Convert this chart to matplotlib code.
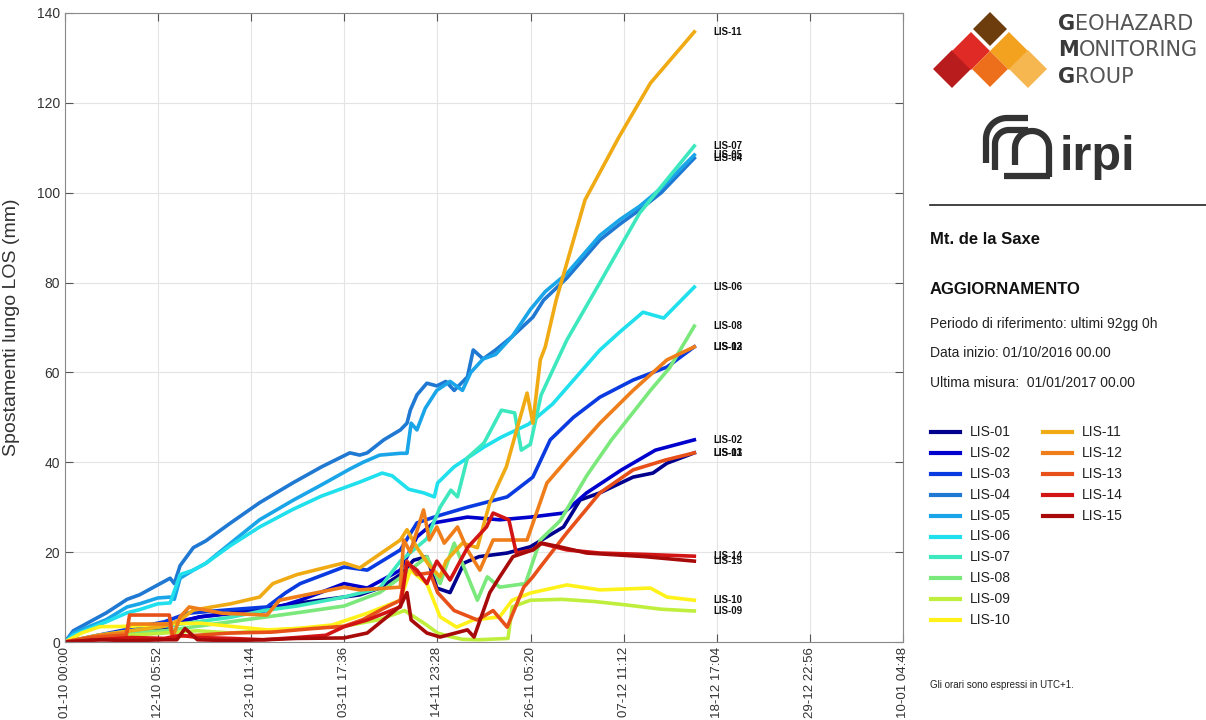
import numpy as np
import matplotlib
matplotlib.use("Agg")
import matplotlib.pyplot as plt
from matplotlib.patches import Polygon

plt.rcParams['font.family'] = ['Liberation Sans', 'DejaVu Sans']

# Series data (days since 01-10 00:00, displacement in mm)
names = ["LIS-01", "LIS-02", "LIS-03", "LIS-04", "LIS-05", "LIS-06", "LIS-07", "LIS-08",
         "LIS-09", "LIS-10", "LIS-11", "LIS-12", "LIS-13", "LIS-14", "LIS-15"]
colors = ["#00008f", "#0000cc", "#0a3be0", "#1f78d2", "#1aa5e8", "#1fe0ec", "#3ee8bf", "#7ae87a",
          "#bfef3c", "#fff21a", "#f0aa14", "#ee7d1a", "#e8501a", "#d21414", "#a80a0a"]

t01 = [0, 4, 8, 12, 14, 16.3, 20, 24, 28.4, 33.7, 35.6, 38, 40.5, 42.1, 43.7, 44.9, 46.5, 48.2, 50,
       53.4, 56.2, 60.2, 62.2, 64.6, 68.6, 71, 72.7, 76]
v01 = [0, 1, 2, 3, 4.5, 5.6, 6.5, 7.5, 8.7, 10, 10.5, 12, 15, 18.2, 19, 12, 11, 17.6, 19,
       19.8, 21.2, 25.6, 31.6, 33.2, 36.7, 37.6, 39.8, 42.1]
t02 = [0, 4, 8, 12, 16.3, 20, 24.4, 28.4, 33.7, 36.5, 40.5, 42.5, 44.5, 48.6, 52.5, 56.2, 60.2, 63,
       67.2, 71.3, 76]
v02 = [0, 1.2, 2.5, 3.8, 5.6, 6.3, 7, 9.3, 13, 12, 16, 23.4, 26.5, 27.8, 27.2, 27.8, 28.7, 33.2,
       38.3, 42.7, 45]
t03 = [0, 4, 8, 12, 14.8, 20, 24.4, 26.6, 28.4, 33.7, 36.5, 40.5, 42.5, 44.9, 48.6, 53.4, 56.5, 58.6,
       61.4, 64.6, 68.6, 72.7, 76]
v03 = [0, 1.5, 3, 4.5, 6.4, 7.2, 7.8, 10.9, 13, 16.7, 16, 20.5, 26.5, 28, 30, 32.3, 36.7, 45,
       50, 54.5, 58.3, 61.2, 65.7]
t04 = [0, 1, 3, 5, 7.5, 9, 11.2, 12.7, 13.2, 13.9, 15.5, 17, 20, 23.5, 27.5, 31, 34.4, 35.6, 36.5,
       38.5, 40.5, 41.3, 41.7, 42.5, 43.7, 44.9, 46, 47, 48.6, 49.3, 50.5, 52, 54, 56.5, 57.8, 60.6,
       64.6, 67, 69.4, 72, 76]
v04 = [0, 2.5, 4.5, 6.5, 9.5, 10.5, 12.7, 14.2, 13, 17, 21, 22.5, 26.5, 31, 35.4, 39, 42.1, 41.6, 42.1,
       45, 47.2, 48.7, 51.6, 55, 57.6, 57, 58, 56, 59, 65, 63, 65, 68, 72.3, 76.1, 81,
       89.5, 93, 96.2, 100, 107.7]
t05 = [0, 1, 3, 5, 7.5, 9, 11.2, 12.7, 13.2, 13.9, 15.5, 17, 20, 23.5, 27.5, 31, 34.4, 36, 38, 40.5,
       41.3, 41.8, 42.5, 43.5, 44.9, 46.5, 48, 49, 50.5, 52, 54, 56.2, 58, 60.6, 64.6, 67, 69.4, 72, 76]
v05 = [0, 2, 3.5, 5, 7.8, 8.5, 9.8, 10, 9.5, 14.2, 16, 17.5, 22, 27.2, 31.5, 35, 38.5, 40, 41.6, 42,
       42, 48.7, 47.2, 52, 56, 58, 56, 60, 63, 64, 68, 74, 78, 82, 90.5, 94, 97, 101, 108.4]
t06 = [0, 1, 3, 5, 7.5, 9, 11.2, 12.7, 13.9, 15.5, 17, 20, 23.5, 27.5, 31, 35.6, 38.3, 39.5, 41.5,
       43.3, 44.6, 45, 47, 50.6, 52.7, 56, 58.9, 64.6, 67, 69.8, 72.3, 76]
v06 = [0, 1.5, 3, 4.5, 6.5, 7.2, 8.5, 8.7, 15, 16, 17.5, 21.5, 25.6, 29.5, 32.5, 35.6, 37.6, 37, 34,
       33.2, 32.3, 35.4, 39, 43.4, 45.6, 48.5, 53, 65, 69, 73.4, 72.1, 79]
t07 = [0, 4, 8, 12, 16, 20, 24, 28, 33.7, 38, 40.5, 43.7, 45.3, 46.6, 47.4, 48.6, 50.6, 52.7, 54.3,
       55.1, 56.2, 57.5, 60.6, 64.6, 69.4, 76]
v07 = [0, 1.5, 2.5, 3.5, 4.5, 5.5, 7, 8, 10, 12, 18, 23, 30, 33.8, 32.3, 41, 44.3, 51.6, 51,
       42.7, 44, 55, 67.2, 80, 95.5, 110.4]
t08 = [0, 4, 8, 12, 16, 20, 24, 28, 33.7, 38, 41, 43.7, 45.3, 47, 49.8, 51, 52.5, 55.6, 57.4, 59.8,
       63, 66, 70.7, 73, 76]
v08 = [0, 1, 2, 2.5, 3.5, 4.5, 5.5, 6.5, 8, 11, 15, 19, 13, 22, 9.3, 14.5, 12.2, 13, 22.7, 27,
       37, 45, 56, 61, 70.3]
t09 = [0, 4, 8, 12, 16, 20, 24, 28, 33.7, 38, 41, 43.5, 45, 46.5, 48, 50, 53.5, 54, 56.2, 60, 64,
       68, 72, 76]
v09 = [0, 0.8, 1.5, 2, 2.5, 2, 2.5, 3, 3.5, 5, 7, 4, 2, 1.2, 0.6, 0.5, 0.8, 7.8, 9.3, 9.5, 9,
       8.2, 7.3, 6.9]
t10 = [0, 2, 4.2, 8, 12, 16.3, 20, 24.4, 28, 32.3, 36.5, 40.5, 41.7, 43.7, 45.3, 47.3, 49.3, 52.5,
       54, 56.2, 60.6, 64.6, 70.7, 72.7, 76]
v10 = [0, 2, 3.4, 3.5, 4, 4.2, 3.5, 2.7, 3, 3.8, 6.4, 9.3, 16, 13, 5.6, 3.3, 4.9, 5.6,
       9.3, 10.9, 12.7, 11.6, 12, 10, 9.3]
t11 = [0, 4, 8, 12, 13.9, 15.5, 20, 23.5, 25.1, 28, 33.7, 35.6, 40.5, 41.3, 42.5, 44, 45.3, 46, 48,
       49.8, 51.3, 53.3, 55.8, 56.5, 57.4, 58, 59.3, 62.8, 66.9, 70.7, 76]
v11 = [0, 1.5, 2.5, 3.5, 4.9, 7.1, 8.5, 10, 13, 15, 17.6, 16.5, 22.7, 25, 21, 17, 14.5, 18, 22,
       21, 31, 39, 55.4, 48.7, 62.8, 65.7, 76, 98.4, 112.4, 124.4, 135.8]
t12 = [0, 4.2, 7.4, 7.8, 12.6, 13, 13.9, 15, 19, 24.4, 25.9, 33.7, 35.6, 40.5, 40.9, 41.7, 43.3, 44,
       44.9, 45.8, 47.4, 48.6, 50.1, 51.7, 53.3, 55.8, 58.2, 60.6, 64.6, 68.6, 72.7, 76]
v12 = [0, 1.5, 2, 4, 4, 1, 5.6, 7.8, 6.4, 6, 9.3, 12.2, 11.6, 12.2, 22.7, 20, 29.4, 22.7,
       25.6, 22, 25.6, 20.5, 16, 22.7, 22.7, 22.7, 35.4, 40.5, 48.7, 56, 62.8, 65.7]
t13 = [0, 3, 7.4, 7.8, 12.6, 13, 16, 20, 25, 30, 33.7, 36, 38.5, 40.5, 41.3, 42.5, 44.1, 45, 47,
       49.8, 51.7, 53.4, 55.4, 56.5, 57.4, 60.6, 64.6, 68.6, 72.5, 76]
v13 = [0, 1, 1.5, 6, 6, 1.2, 1.5, 2, 2.2, 3, 3.5, 5, 7.5, 9.3, 18, 15, 15.4, 11, 7,
       4.9, 7, 3.3, 12.2, 14.5, 16.7, 24.3, 33.2, 38.3, 40.5, 42.1]
t14 = [0, 4, 8, 12, 14, 16, 20, 24, 28, 31.5, 33.7, 36.5, 40.5, 41.3, 42.5, 43.7, 44.9, 46.5, 48.6,
       50.9, 51.7, 53.6, 54.5, 56.5, 57.4, 60.6, 64.6, 70, 76]
v14 = [0, 0.5, 1, 0.8, 1.5, 1, 0.8, 0.5, 1, 1.5, 3.4, 4.9, 7.8, 17.6, 16, 13, 18, 13.8, 21,
       25.6, 28.7, 27.2, 19.8, 20.5, 22, 20.5, 19.8, 19.5, 19.1]
t15 = [0, 4, 8, 12, 13.5, 14.5, 16, 20, 24, 28, 33.7, 36.5, 40.5, 41.3, 41.8, 43.7, 45.3, 48.6, 49.4,
       51.3, 52.5, 54.1, 56.5, 57.6, 59.7, 63, 70, 76]
v15 = [0, 0.5, 0.3, 0.5, 0.5, 3, 0.5, 0.3, 0.5, 0.8, 0.9, 2, 8, 11, 4.9, 2, 1.1, 2.7, 1.1,
       11, 14.5, 19, 20.5, 22, 21.2, 19.8, 19, 18]

times = [t01, t02, t03, t04, t05, t06, t07, t08, t09, t10, t11, t12, t13, t14, t15]
values = [v01, v02, v03, v04, v05, v06, v07, v08, v09, v10, v11, v12, v13, v14, v15]

tick_step = 11 + 5 / 24 + 52 / 1440
tick_labels = ["01-10 00:00", "12-10 05:52", "23-10 11:44", "03-11 17:36", "14-11 23:28",
               "26-11 05:20", "07-12 11:12", "18-12 17:04", "29-12 22:56", "10-01 04:48"]

fig = plt.figure(figsize=(12.06, 7.2), dpi=100)
ax = fig.add_axes([65 / 1206, 78 / 720, 838 / 1206, 629 / 720])

for t, v, c, n in zip(times, values, colors, names):
    ax.plot(t, v, color=c, lw=2.6, solid_joinstyle='round')
    ax.text(78.3, v[-1], n, fontsize=7, fontweight='bold', va='center', ha='left', color='#111111')

ax.set_xlim(0, 9 * tick_step)
ax.set_ylim(0, 140)
ax.set_xticks([k * tick_step for k in range(10)])
ax.set_xticklabels(tick_labels, rotation=90, fontsize=9.5, color='#333333')
ax.set_yticks(range(0, 141, 20))
ax.tick_params(axis='y', labelsize=10, labelcolor='#333333')
ax.tick_params(direction='in', length=6, top=True, right=True, color='#555555')
ax.grid(True, color='#e4e4e4', lw=0.8)
ax.set_axisbelow(True)
for s in ax.spines.values():
    s.set_color('#8a8a8a')
ax.set_ylabel("Spostamenti lungo LOS (mm)", fontsize=14, color='#333333')
ax.yaxis.set_label_coords(-0.054, 0.5)

# right panel, drawn in pixel coordinates
ov = fig.add_axes([0, 0, 1, 1], facecolor='none')
ov.set_xlim(0, 1206)
ov.set_ylim(720, 0)
ov.axis('off')


# geohazard logo: rotated squares
def diamond(cx, cy, h, col):
    ov.add_patch(Polygon([(cx, cy - h), (cx + h, cy), (cx, cy + h), (cx - h, cy)],
                         closed=True, facecolor=col, edgecolor='none'))


diamond(990, 29, 17, '#6e3d0e')
diamond(952, 69, 19, '#b81c1c')
diamond(971, 51, 19, '#e02a25')
diamond(1009, 51, 19, '#f3a21f')
diamond(1028, 69, 19, '#f6b650')
diamond(990, 69, 18, '#ee6f1b')

for y, first, rest in [(24, "G", "EOHAZARD"), (50, "M", "ONITORING"), (77, "G", "ROUP")]:
    tt = ov.text(1058, y, first, fontsize=15, fontweight='bold', color='#3a3a3a', va='center',
                 family='DejaVu Sans')
    fig.canvas.draw()
    bb = tt.get_window_extent()
    ov.text(1058 + bb.width, y, rest, fontsize=15, color='#555555', va='center',
            family='DejaVu Sans')

# irpi logo
th = np.linspace(np.pi / 2, np.pi, 20)
for r, xc, yc, ybot in [(21, 1007, 139, 163), (14, 1009, 144, 170)]:
    px = [1028, xc] + list(xc + r * np.cos(th)) + [xc - r, xc - r]
    py = [yc - r, yc - r] + list(yc - r * np.sin(th)) + [yc, ybot]
    ov.plot(px, py, color='#333333', lw=4.5, solid_capstyle='butt')
th2 = np.linspace(0, np.pi, 30)
arch_x = [1015, 1015] + list(1032 - 17 * np.cos(th2)) + [1049, 1049]
arch_y = [165, 148] + list(148 - 17 * np.sin(th2)) + [148, 177]
ov.plot(arch_x, arch_y, color='#333333', lw=4.5, solid_capstyle='butt')
ov.plot([1004, 1050], [176, 176], color='#333333', lw=4.5, solid_capstyle='butt')
ov.text(1060, 158, "irpi", fontsize=35, fontweight='bold', color='#333333', va='center')

ov.plot([930, 1206], [205, 205], color='#222222', lw=1.2)
ov.text(930, 240, "Mt. de la Saxe", fontsize=12, fontweight='bold', color='#111111', va='center')
ov.text(930, 290, "AGGIORNAMENTO", fontsize=12, fontweight='bold', color='#111111', va='center')
ov.text(930, 324, "Periodo di riferimento: ultimi 92gg 0h", fontsize=10, color='#222222', va='center')
ov.text(930, 353, "Data inizio: 01/10/2016 00.00", fontsize=10, color='#222222', va='center')
ov.text(930, 383, "Ultima misura:  01/01/2017 00.00", fontsize=10, color='#222222', va='center')

for i, (n, c) in enumerate(zip(names, colors)):
    col, row = divmod(i, 10)
    x0 = 931 + col * 112
    y0 = 432 + row * 20.9
    ov.plot([x0, x0 + 29], [y0, y0], color=c, lw=3)
    ov.text(x0 + 39, y0, n, fontsize=10, color='#222222', va='center')

ov.text(930, 685, "Gli orari sono espressi in UTC+1.", fontsize=7, color='#222222', va='center')

fig.savefig("out.png", dpi=100)
